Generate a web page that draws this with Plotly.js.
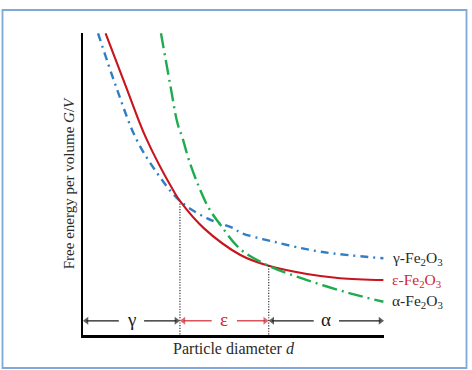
<!DOCTYPE html>
<html>
<head>
<meta charset="utf-8">
<script src="https://cdn.plot.ly/plotly-3.0.1.min.js"></script>
<style>
  html, body { margin: 0; padding: 0; background: #ffffff; }
  #chart { width: 472px; height: 370px; }
</style>
</head>
<body>
<div id="chart"></div>
<script>
// Free energy per volume curves (arbitrary units)
const gammaX = [0.50, 1.10, 1.76, 2.47, 3.22, 4.13, 5.01, 5.23, 6.33, 7.88, 9.98];
const gammaY = [9.99, 8.22, 6.51, 5.35, 4.44, 3.86, 3.53, 3.39, 3.09, 2.76, 2.54];

const epsX = [0.75, 1.43, 2.10, 3.02, 3.22, 4.02, 5.23, 6.17, 7.44, 8.54, 9.98];
const epsY = [9.99, 8.22, 6.51, 4.75, 4.44, 3.53, 2.65, 2.29, 2.02, 1.88, 1.82];

const alphaX = [2.59, 2.89, 3.14, 3.31, 3.52, 3.85, 4.18, 4.57, 5.23, 6.17, 7.44, 8.87, 9.98];
const alphaY = [9.99, 8.33, 7.01, 6.51, 5.79, 4.91, 4.20, 3.64, 2.84, 2.29, 1.82, 1.38, 1.10];

// Phase boundaries (crossing points) and regions
const crossX = [3.22, 6.17];
const crossY = [4.44, 2.29];
const regionBounds = [0, 3.22, 6.17, 10];
const regionLabels = ['γ', 'ε', 'α'];
const regionColors = ['#1a1a1a', '#d0282e', '#1a1a1a'];
const arrowRowY = 0.47;

const seriesNames = ['γ-Fe<sub>2</sub>O<sub>3</sub>', 'ε-Fe<sub>2</sub>O<sub>3</sub>', 'α-Fe<sub>2</sub>O<sub>3</sub>'];
const seriesColors = ['#2f7fc6', '#c8141c', '#1fac4e'];
const labelColors = ['#2a2a2a', '#d0282e', '#2a2a2a'];

const serif = 'Liberation Serif, Times New Roman, serif';

const traces = [
  {x: gammaX, y: gammaY, mode: 'lines', line: {color: seriesColors[0], width: 2.4, dash: '8px,5px,2px,5px', shape: 'spline', smoothing: 1}},
  {x: epsX, y: epsY, mode: 'lines', line: {color: seriesColors[1], width: 2.1, dash: 'solid', shape: 'spline', smoothing: 1}},
  {x: alphaX, y: alphaY, mode: 'lines', line: {color: seriesColors[2], width: 2.4, dash: '15px,5px,2px,5px', shape: 'spline', smoothing: 1}}
];

// dotted vertical lines at the boundaries
crossX.forEach((cx, i) => {
  traces.push({x: [cx, cx], y: [crossY[i], 0], mode: 'lines',
    line: {color: '#333333', width: 1.2, dash: '1.2px,1.5px'}});
});

// double arrows with region labels
const pxUnit = 10 / 301;          // data units per pixel
const headOff = 3.5 * pxUnit;     // so the triangle tip sits on the boundary
const gap = 0.42;
const annotations = [];
for (let i = 0; i < regionLabels.length; i++) {
  const l = regionBounds[i], r = regionBounds[i + 1], m = (l + r) / 2;
  const col = regionColors[i];
  traces.push({
    x: [l, m - gap], y: [arrowRowY, arrowRowY], mode: 'lines+markers',
    line: {color: col, width: 1.2},
    marker: {symbol: ['triangle-left', 'circle'], size: [7, 0], color: col, line: {width: 0}}
  });
  traces.push({
    x: [m + gap, r], y: [arrowRowY, arrowRowY], mode: 'lines+markers',
    line: {color: col, width: 1.2},
    marker: {symbol: ['circle', 'triangle-right'], size: [0, 7], color: col, line: {width: 0}}
  });
  annotations.push({x: m, y: arrowRowY, xref: 'x', yref: 'y', text: regionLabels[i], showarrow: false,
    font: {family: serif, size: 19, color: col}, yshift: 1});
}
// shift triangle markers so their tips touch the boundaries
traces.forEach(t => {
  if (t.marker && Array.isArray(t.marker.symbol)) {
    t.x = t.x.map((v, k) => t.marker.symbol[k] === 'triangle-left' ? v + headOff :
                             t.marker.symbol[k] === 'triangle-right' ? v - headOff : v);
  }
});

// curve end labels
const ends = [[gammaX, gammaY], [epsX, epsY], [alphaX, alphaY]];
ends.forEach((e, i) => {
  const n = e[0].length - 1;
  annotations.push({x: e[0][n], y: e[1][n], xref: 'x', yref: 'y', text: seriesNames[i],
    showarrow: false, xanchor: 'left', xshift: 7, font: {family: serif, size: 15.5, color: labelColors[i]}});
});

const layout = {
  width: 472, height: 370,
  margin: {l: 83, r: 88, t: 33, b: 35, pad: 0},
  paper_bgcolor: '#ffffff', plot_bgcolor: '#ffffff',
  showlegend: false,
  xaxis: {range: [0, 10], showgrid: false, zeroline: false, showticklabels: false, ticks: '',
    showline: true, linecolor: '#000000', linewidth: 3,
    title: {text: 'Particle diameter <i>d</i>', font: {family: serif, size: 16, color: '#2a2a2a'}, standoff: 6}},
  yaxis: {range: [0, 10], showgrid: false, zeroline: false, showticklabels: false, ticks: '',
    showline: true, linecolor: '#000000', linewidth: 2.5,
    title: {text: 'Free energy per volume <i>G</i>/<i>V</i>', font: {family: serif, size: 15, color: '#2a2a2a'}, standoff: 3}},
  annotations: annotations,
  shapes: [{type: 'rect', xref: 'paper', yref: 'paper',
    x0: (2.5 - 83) / 301, x1: (466.5 - 83) / 301,
    y0: (335 - 368) / 302, y1: (335 - 10) / 302,
    line: {color: '#7fa9d8', width: 1.8}, fillcolor: 'rgba(0,0,0,0)'}]
};

Plotly.newPlot('chart', traces, layout, {staticPlot: true, displayModeBar: false});
</script>
</body>
</html>
